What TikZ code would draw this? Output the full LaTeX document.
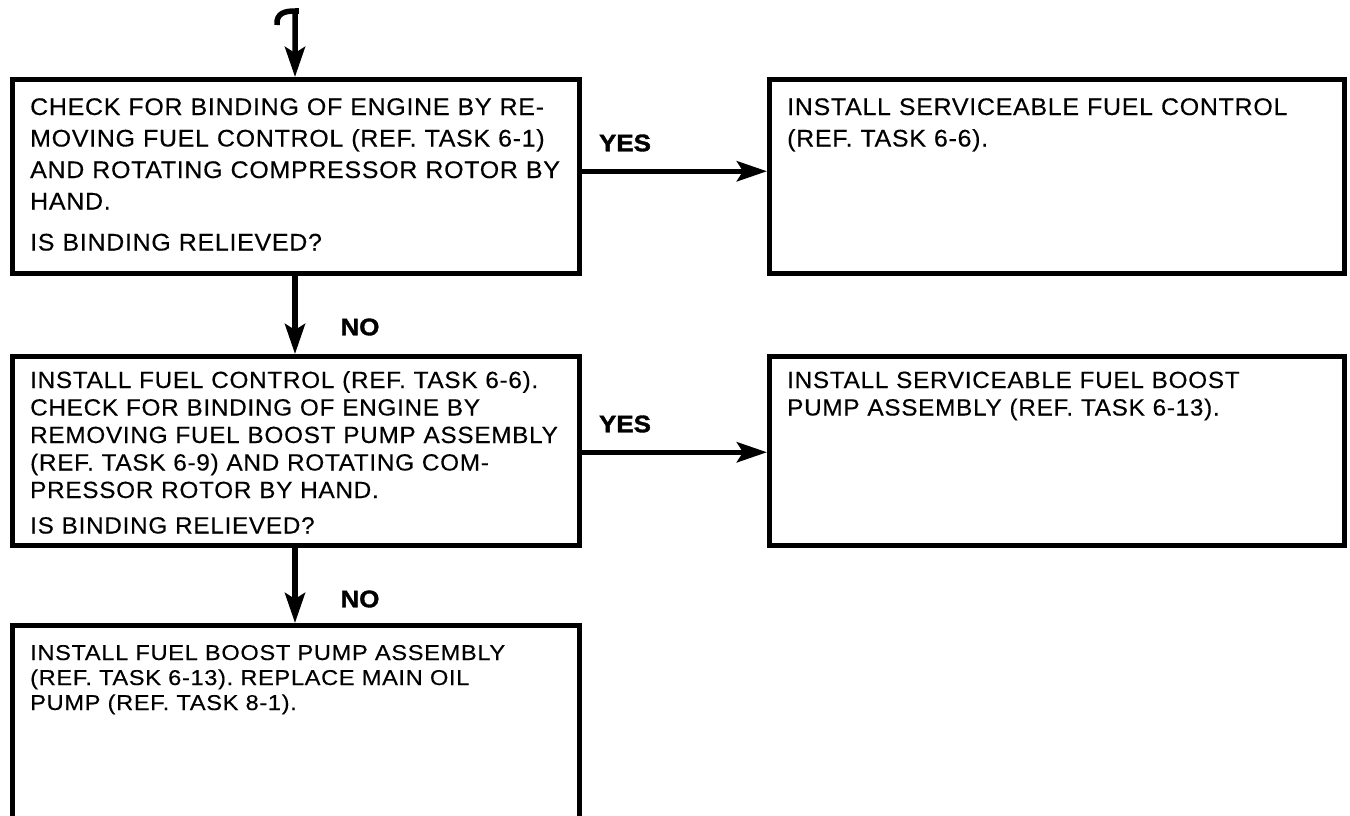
\documentclass[tikz,border=0pt]{standalone}
\usepackage{fontspec}
\setmainfont{Liberation Sans}
\newfontfamily\boxfont{Liberation Sans}[LetterSpace=3,WordSpace=1.4,FakeStretch=1.04,FakeBold=0.3]
\newfontfamily\lowfont{Liberation Sans}[LetterSpace=3,WordSpace=1.2,FakeStretch=1.1,FakeBold=0.3]
\newfontfamily\tagfont{Liberation Sans Bold}[FakeBold=1.5,FakeStretch=1.08]
\usetikzlibrary{arrows.meta,positioning,calc}
\frenchspacing
\newcommand\bigtxt{\fontsize{24}{31.5}\boxfont}
\newcommand\midtxt{\fontsize{23.4}{27.5}\boxfont}
\newcommand\lowtxt{\fontsize{21.5}{25}\lowfont}
\tikzset{box/.style={draw,line width=4.5pt,minimum width=567pt,minimum height=194pt,anchor=north west,inner sep=0pt},
 txt/.style={anchor=base west,inner sep=0pt,align=left,text width=560pt},
 arr/.style={-{Stealth[length=30pt,width=20pt,inset=6pt]},line width=5.5pt},
 tag/.style={font=\fontsize{24}{24}\tagfont,inner sep=0pt}}
\begin{document}
\begin{tikzpicture}[x=1pt,y=-1pt]
\clip (0,0) rectangle (1350,815);
\fill[white] (0,0) rectangle (1350,815);
% boxes
\node[box] (q1) at (10,77) {};
\node[box,minimum width=575pt] (a1) at (767,77) {};
\node[box,minimum height=189pt] (q2) at (10,354) {};
\node[box,minimum width=575pt,minimum height=189pt] (a2) at (767,354) {};
\node[box,minimum height=260pt] (a3) at (10,623) {};
% texts
\node[txt,font=\bigtxt] (t1) at (30,115) {CHECK FOR BINDING OF ENGINE BY RE-\\MOVING FUEL CONTROL (REF. TASK 6-1)\\AND ROTATING COMPRESSOR ROTOR BY\\HAND.\\[9.5pt]IS BINDING RELIEVED?};
\node[txt,font=\bigtxt] (s1) at (787,115) {INSTALL SERVICEABLE FUEL CONTROL\\(REF. TASK 6-6).};
\node[txt,font=\midtxt] (t2) at (30,388) {INSTALL FUEL CONTROL (REF. TASK 6-6).\\CHECK FOR BINDING OF ENGINE BY\\REMOVING FUEL BOOST PUMP ASSEMBLY\\(REF. TASK 6-9) AND ROTATING COM-\\PRESSOR ROTOR BY HAND.\\[8pt]IS BINDING RELIEVED?};
\node[txt,font=\midtxt] (s2) at (787,388) {INSTALL SERVICEABLE FUEL BOOST\\PUMP ASSEMBLY (REF. TASK 6-13).};
\node[txt,font=\lowtxt] (t3) at (30,660) {INSTALL FUEL BOOST PUMP ASSEMBLY\\(REF. TASK 6-13). REPLACE MAIN OIL\\PUMP (REF. TASK 8-1).};
% connectors
\coordinate (tail) at (277,25);
\coordinate (in) at (295,11);
\draw[arr] (tail) .. controls (276,13) and (285,11) .. (in) -- (in |- q1.north);
\draw[line width=5.5pt] (in) -- ++(4,0);
\draw[arr] (q1.south -| in) -- (q2.north -| in);
\draw[arr] (q2.south -| in) -- (a3.north -| in);
\draw[arr] ([yshift=5pt]q1.east) -- ([yshift=5pt]a1.west);
\draw[arr] ([yshift=-1.5pt]q2.east) -- ([yshift=-1.5pt]a2.west);
% answers
\node[tag] (y1) at (625,143) {YES};
\node[tag] (y2) at (625,424) {YES};
\node[tag] (n1) at (360,327) {NO};
\node[tag] (n2) at (360,599) {NO};
\end{tikzpicture}
\end{document}
